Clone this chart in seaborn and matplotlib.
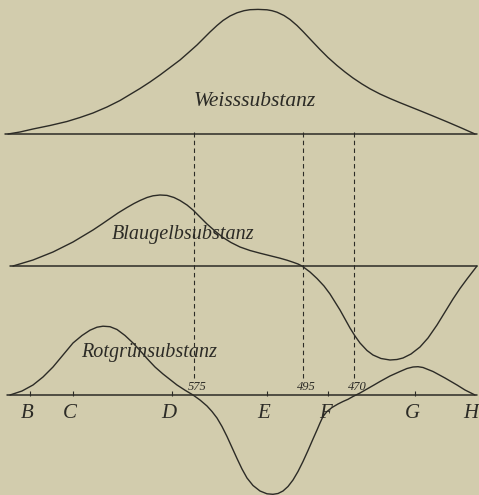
import matplotlib.pyplot as plt
import pandas as pd
import seaborn as sns

# spectral position (left end = red, right end = violet)
weiss_x = [8, 20, 33, 50, 67, 80, 93, 107, 120, 130, 140, 150, 160, 170, 180, 188, 197, 204, 210, 217, 223, 230, 237,
           244, 250, 258, 267, 272, 277, 284, 290, 297, 303, 311, 320, 328, 337, 345, 353, 362, 370, 380, 390, 400,
           410, 420, 433, 447, 461, 475]
weiss_y = [0, 2, 5, 8.5, 12.5, 16.5, 21, 27, 33.5, 39.5, 45.5, 52, 59, 66.5, 74, 81, 89, 96, 102, 108.5, 113.5, 118,
           121.2, 123.3, 124.3, 124.6, 124.2, 123.3, 121.8, 118.5, 114.5, 108.5, 102.5, 94, 84.5, 76.5, 68.5, 62, 56,
           50, 45.2, 40, 35.5, 31.3, 27.3, 23.3, 18, 12.2, 6.2, 0]

blau_x = [13, 23, 33, 43, 53, 63, 73, 83, 93, 102, 110, 118, 127, 134, 140, 147, 153, 160, 167, 174, 180, 187, 193,
          200, 207, 215, 223, 231, 240, 250, 260, 270, 280, 287, 293, 298, 302, 310, 317, 324, 330, 335, 340, 345,
          350, 355, 360, 367, 373, 381, 390, 397, 403, 411, 420, 428, 437, 445, 453, 460, 467, 472, 477]
blau_y = [0, 3, 6, 10, 14, 19, 24, 30, 36, 42, 47.5, 53, 58.5, 62.5, 65.5, 68.5, 70.2, 71, 70.6, 68.5, 65.5, 61, 56,
          49, 42, 35, 28.5, 23.5, 19, 15.5, 12.8, 10.3, 7.8, 5.8, 3.8, 2, 0, -6, -12.5, -20, -28, -36, -44, -53,
          -62, -70, -77, -84.5, -89, -92.5, -94, -93.5, -92, -88, -81, -72, -59, -46, -33, -22.5, -13, -6.5, 0]

rot_x = [10, 22, 33, 43, 53, 63, 73, 82, 90, 97, 103, 110, 117, 125, 133, 140, 147, 155, 163, 170, 177, 185, 193,
         200, 207, 212, 217, 222, 227, 232, 237, 242, 247, 253, 260, 267, 273, 278, 283, 288, 293, 298, 303, 308,
         313, 317, 320, 323, 327, 332, 338, 343, 348, 353, 360, 367, 374, 380, 390, 400, 407, 413, 418, 423, 433,
         445, 457, 465, 475]
rot_y = [0, 4, 10, 18, 28, 40, 52, 59.5, 64.8, 67.8, 68.8, 68.3, 65.5, 59.5, 52, 44.5, 36.5, 28, 21, 15.5, 10, 4.8, 0,
         -5, -11, -16.5, -23, -31.5, -41.5, -52.5, -63.5, -74, -83, -90.5, -96, -98.8, -99.3, -98.5, -96, -91.5,
         -85, -76.5, -66.5, -55.5, -44, -35, -28, -21.5, -16.5, -12.5, -9, -6.5, -4.3, -1.5, 2, 6, 10, 13.5, 19,
         23.5, 26.5, 28, 28.3, 27.5, 23.5, 17, 10, 5, 0]

# Fraunhofer lines and marked wavelengths
fraunhofer = ["B", "C", "D", "E", "F", "G", "H"]
fraunhofer_x = [30, 73, 172, 267, 328, 415, 474]
wave_labels = ["575", "495", "470"]
wave_x = [194, 303, 354]

BG = "#d2ccad"
INK = "#2c2b26"
SERIF = ["Liberation Serif", "DejaVu Serif"]


def main() -> None:
    sns.set_theme(style="white")
    fig = plt.figure(figsize=(4.79, 4.95), dpi=100, facecolor=BG)
    ax = fig.add_axes([0, 0, 1, 1])
    ax.set_facecolor(BG)
    ax.set_xlim(0, 479)
    ax.set_ylim(0, 495)
    ax.axis("off")

    panels = [
        ("Weisssubstanz", weiss_x, weiss_y, 361, (255, 394), 15.5),
        ("Blaugelbsubstanz", blau_x, blau_y, 229, (183, 261), 14.5),
        ("Rotgrünsubstanz", rot_x, rot_y, 100, (149, 143), 14.5),
    ]
    for name, xs, ys, base, (lx, ly), fs in panels:
        df = pd.DataFrame({"x": xs, "y": [base + v for v in ys]})
        sns.lineplot(data=df, x="x", y="y", ax=ax, color=INK, lw=1.0, sort=False)
        ax.plot([xs[0] - 3, 477], [base, base], color=INK, lw=1.1)
        ax.text(lx, ly, name, family=SERIF, style="italic", fontsize=fs,
                ha="center", va="center", color=INK)

    # dashed verticals from the white baseline down to the lower scale
    ax.vlines(wave_x, 117, 358, colors=INK, lw=0.8, linestyles=(0, (4, 3)))
    ax.vlines(wave_x, 358, 363, colors=INK, lw=0.8)
    for lab, x in zip(wave_labels, wave_x):
        ax.text(x + 3, 108, lab, family=SERIF, style="italic", fontsize=9,
                ha="center", va="center", color=INK)

    ax.vlines(fraunhofer_x[:-1], 99, 104, colors=INK, lw=0.8)
    for lab, x in zip(fraunhofer, fraunhofer_x):
        ax.text(x - 3, 82, lab, family=SERIF, style="italic", fontsize=15,
                ha="center", va="center", color=INK)

    fig.savefig("out.png", dpi=100, facecolor=BG)
    plt.close(fig)


if __name__ == "__main__":
    main()
